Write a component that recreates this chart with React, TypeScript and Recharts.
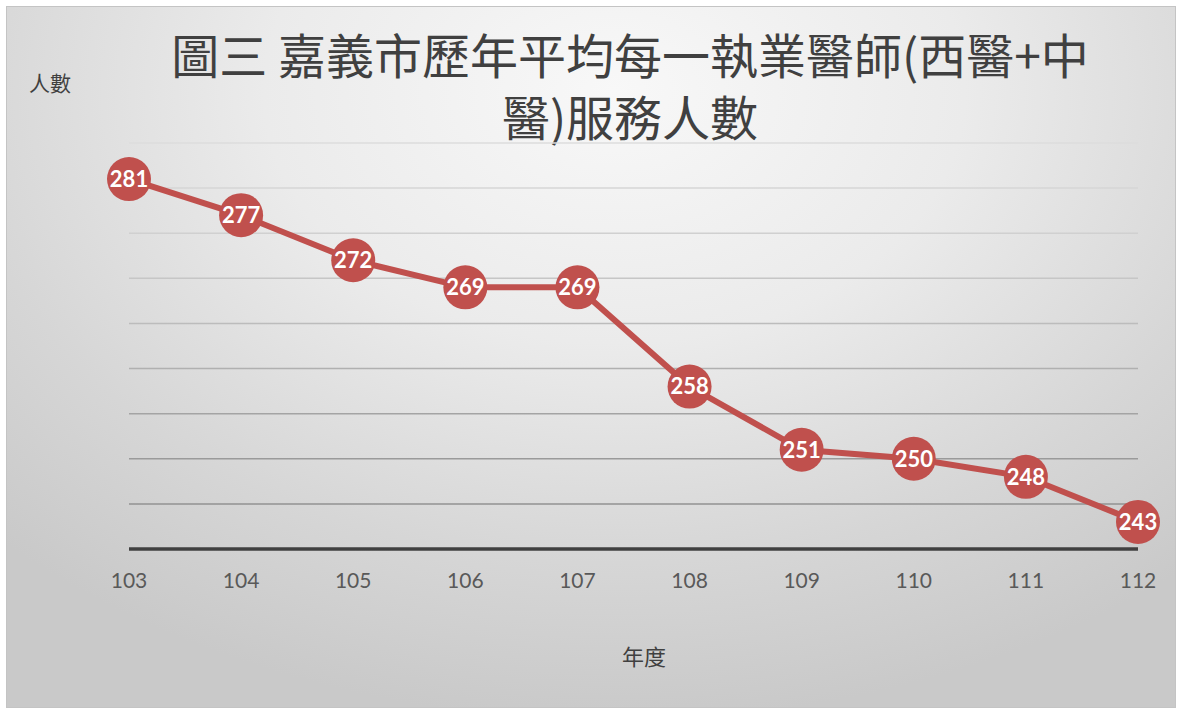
import React from 'react';
import { LineChart, Line, XAxis, YAxis, CartesianGrid, LabelList } from 'recharts';

// 年度 (民國) and average population served per practicing doctor
const years = ['103', '104', '105', '106', '107', '108', '109', '110', '111', '112'];
const served = [281, 277, 272, 269, 269, 258, 251, 250, 248, 243];
const yTicks = [240, 245, 250, 255, 260, 265, 270, 275, 280, 285];

const data = years.map((year, i) => ({ year, value: served[i] }));

const gridColors = ['#dcdcdc', '#d6d6d6', '#d0d0d0', '#c6c6c6', '#bcbcbc', '#b0b0b0', '#a4a4a4', '#9a9a9a', '#929292', '#8c8c8c'];

const GridLine = (props: any) => {
  const { x1, x2, y1, y2, index } = props;
  // recharts orders ticks bottom->top
  const idx = yTicks.length - 1 - (index ?? 0);
  return <line x1={x1} x2={x2} y1={y1} y2={y2} stroke={gridColors[idx] || '#aaa'} strokeWidth={1.5} />;
};

const titleStyle: React.CSSProperties = {
  position: 'absolute',
  left: 130,
  width: 1000,
  textAlign: 'center',
  fontFamily: '"Noto Sans CJK TC", sans-serif',
  fontSize: 48,
  lineHeight: '62px',
  color: '#404040',
  whiteSpace: 'nowrap',
};

const App: React.FC = () => {
  return (
    <div style={{ position: 'absolute', left: 0, top: 0, width: 1181, height: 713, background: '#fff' }}>
      <div
        style={{
          position: 'absolute',
          left: 6,
          top: 6,
          width: 1168,
          height: 700,
          border: '1.5px solid #c4c4c4',
          background: 'radial-gradient(ellipse 75% 90% at 52% 12%, #f8f8f8 0%, #ebebeb 40%, #d6d6d6 75%, #c9c9c9 100%)',
        }}
      />
      <div style={{ ...titleStyle, top: 22 }}>圖三 嘉義市歷年平均每一執業醫師(西醫+中</div>
      <div style={{ ...titleStyle, top: 84 }}>醫)服務人數</div>
      <div
        style={{
          position: 'absolute',
          left: 29,
          top: 67,
          fontFamily: '"Noto Sans CJK TC", sans-serif',
          fontSize: 21,
          color: '#404040',
        }}
      >
        人數
      </div>
      <div
        style={{
          position: 'absolute',
          left: 622,
          top: 639,
          fontFamily: '"Noto Sans CJK TC", sans-serif',
          fontSize: 22,
          color: '#404040',
        }}
      >
        年度
      </div>
      <div style={{ position: 'absolute', left: 0, top: 0 }}>
        <LineChart width={1181} height={713} data={data} margin={{ top: 143, right: 43, left: 129, bottom: 134 }}>
          <CartesianGrid vertical={false} horizontal={GridLine as any} />
          <XAxis
            dataKey="year"
            height={30}
            axisLine={{ stroke: '#404040', strokeWidth: 3.5 }}
            tickLine={false}
            tickSize={6}
            tickMargin={18}
            tick={{ fill: '#595959', fontSize: 21, fontFamily: 'Lato, sans-serif' }}
          />
          <YAxis hide domain={[240, 285]} ticks={yTicks} />
          <Line
            type="linear"
            dataKey="value"
            stroke="#c0504d"
            strokeWidth={6}
            dot={{ r: 22, fill: '#c0504d', stroke: 'none' }}
            activeDot={false}
            isAnimationActive={false}
          >
            <LabelList
              dataKey="value"
              position="center"
              fill="#ffffff"
              fontSize={22}
              fontWeight="bold"
              fontFamily="Lato, sans-serif"
            />
          </Line>
        </LineChart>
      </div>
    </div>
  );
};

export default App;
